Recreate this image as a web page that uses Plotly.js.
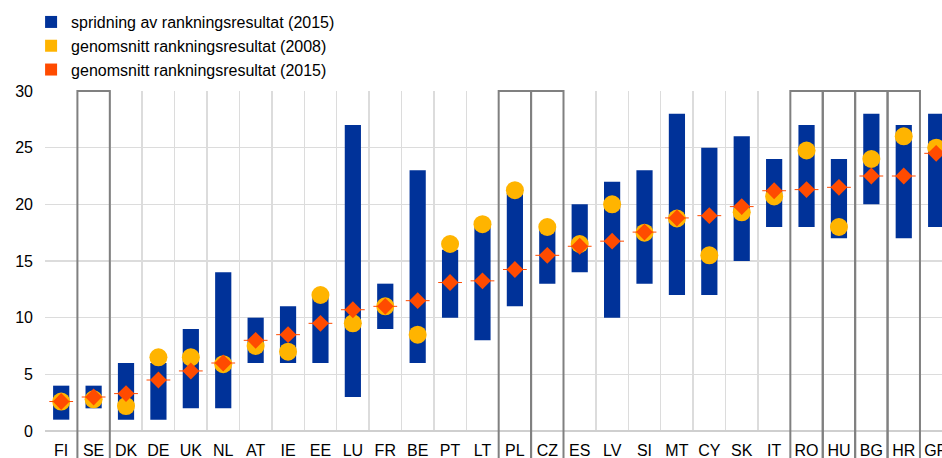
<!DOCTYPE html>
<html>
<head>
<meta charset="utf-8">
<script src="https://cdn.plot.ly/plotly-3.0.1.min.js"></script>
<style>html,body{margin:0;padding:0;background:#fff;}#chart{width:942px;height:458px;}</style>
</head>
<body>
<div id="chart"></div>
<script>
const countries = ['FI','SE','DK','DE','UK','NL','AT','IE','EE','LU','FR','BE','PT','LT','PL','CZ','ES','LV','SI','MT','CY','SK','IT','RO','HU','BG','HR','GR'];
const spreadLow  = [1,2,1,1,2,2,6,6,6,3,9,6,10,8,11,13,14,10,13,12,12,15,18,18,17,20,17,18];
const spreadHigh = [4,4,6,6,9,14,10,11,12,27,13,23,16,18,21,18,20,22,23,28,25,26,24,27,24,28,27,28];
const avg2008 = [2.6,2.8,2.2,6.5,6.5,5.9,7.5,7.0,12.0,9.5,11.0,8.5,16.5,18.25,21.25,18.0,16.5,20.0,17.5,18.75,15.5,19.3,20.7,24.75,18.0,24.0,26.0,25.0];
const avg2015 = [2.6,3.0,3.3,4.5,5.3,6.0,8.0,8.5,9.5,10.7,11.0,11.5,13.1,13.25,14.25,15.5,16.3,16.75,17.55,18.8,19.0,19.8,21.2,21.3,21.5,22.5,22.5,24.5];
const boxedCountries = ['SE','PL','CZ','RO','HU','BG','HR'];
const seriesNames = ['spridning av rankningsresultat (2015)','genomsnitt rankningsresultat (2008)','genomsnitt rankningsresultat (2015)'];

const BLUE = '#003299', YELLOW = '#FFB400', ORANGE = '#FF4B00';

const traces = [
  {type:'bar', x:countries, base:spreadLow, y:spreadHigh.map((h,i)=>h-spreadLow[i]),
   width:0.5, marker:{color:BLUE}, name:seriesNames[0], legendgroup:'a', hoverinfo:'skip'},
  {type:'bar', x:[null], y:[null], marker:{color:YELLOW}, name:seriesNames[1], legendgroup:'b'},
  {type:'bar', x:[null], y:[null], marker:{color:ORANGE}, name:seriesNames[2], legendgroup:'c'},
  {type:'scatter', mode:'markers', x:countries, y:avg2008, showlegend:false,
   marker:{symbol:'circle', size:18, color:YELLOW}},
  {type:'scatter', mode:'markers', x:countries, y:avg2015, showlegend:false,
   marker:{symbol:'line-ew', size:17, line:{color:ORANGE, width:1}}},
  {type:'scatter', mode:'markers', x:countries, y:avg2015, showlegend:false,
   marker:{symbol:'diamond', size:13, color:ORANGE}}
];

const shapes = [];
boxedCountries.forEach(c => {
  const i = countries.indexOf(c);
  shapes.push({type:'rect', xref:'x', yref:'paper', x0:i-0.5, x1:i+0.5, y0:-0.3, y1:1,
    line:{color:'#808080', width:2}, fillcolor:'rgba(0,0,0,0)', layer:'above'});
});

const layout = {
  width:942, height:458,
  margin:{l:45, r:0, t:91, b:27, autoexpand:false},
  paper_bgcolor:'#fff', plot_bgcolor:'#fff',
  font:{family:'Liberation Sans, Arial, sans-serif', size:16, color:'#000'},
  barmode:'overlay',
  showlegend:true,
  legend:{x:0.033, xref:'container', y:0.989, yref:'container', xanchor:'left', yanchor:'top',
    font:{size:16, color:'#000'}, tracegroupgap:0, bgcolor:'rgba(0,0,0,0)'},
  xaxis:{type:'category', range:[-0.5, 27.18], tickson:'boundaries', showgrid:true, automargin:false,
    gridcolor:'#dcdcdc', gridwidth:1.5, ticks:'', tickangle:0, ticklabelstandoff:8, showline:false, zeroline:false,
    fixedrange:true},
  yaxis:{range:[0,30], dtick:5, showgrid:true, gridcolor:'#dcdcdc', gridwidth:1.5, automargin:false,
    zeroline:true, zerolinecolor:'#cfcfcf', zerolinewidth:2, ticks:'', ticklabelstandoff:11,
    showline:false, fixedrange:true},
  shapes:shapes
};

Plotly.newPlot('chart', traces, layout, {displayModeBar:false, staticPlot:true});
</script>
</body>
</html>
